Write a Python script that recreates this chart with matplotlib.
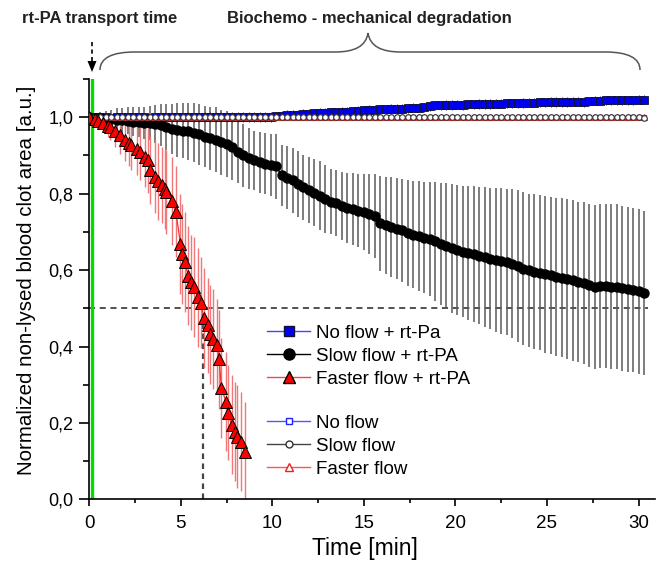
import matplotlib
matplotlib.use("Agg")
import matplotlib.pyplot as plt
from matplotlib.path import Path
from matplotlib.patches import PathPatch
from matplotlib.lines import Line2D
from matplotlib.ticker import MultipleLocator, FuncFormatter

plt.rcParams['font.family'] = ['Liberation Sans', 'DejaVu Sans']

# ---------------- data ----------------
TIME = [0.0, 0.3, 0.6, 0.9, 1.2, 1.5, 1.8, 2.1, 2.4, 2.7,
        3.0, 3.3, 3.6, 3.9, 4.2, 4.5, 4.8, 5.1, 5.4, 5.7,
        6.0, 6.3, 6.6, 6.9, 7.2, 7.5, 7.8, 8.1, 8.4, 8.7,
        9.0, 9.3, 9.6, 9.9, 10.2, 10.5, 10.8, 11.1, 11.4, 11.7,
        12.0, 12.3, 12.6, 12.9, 13.2, 13.5, 13.8, 14.1, 14.4, 14.7,
        15.0, 15.3, 15.6, 15.9, 16.2, 16.5, 16.8, 17.1, 17.4, 17.7,
        18.0, 18.3, 18.6, 18.9, 19.2, 19.5, 19.8, 20.1, 20.4, 20.7,
        21.0, 21.3, 21.6, 21.9, 22.2, 22.5, 22.8, 23.1, 23.4, 23.7,
        24.0, 24.3, 24.6, 24.9, 25.2, 25.5, 25.8, 26.1, 26.4, 26.7,
        27.0, 27.3, 27.6, 27.9, 28.2, 28.5, 28.8, 29.1, 29.4, 29.7,
        30.0, 30.3]

# Slow flow + rt-PA
SLOW_RTPA = [1.000, 0.999, 0.998, 0.996, 0.995, 0.994, 0.992, 0.991, 0.989, 0.988,
             0.986, 0.985, 0.983, 0.980, 0.975, 0.970, 0.967, 0.965, 0.963, 0.960,
             0.955, 0.949, 0.945, 0.941, 0.935, 0.930, 0.922, 0.910, 0.900, 0.893,
             0.887, 0.882, 0.878, 0.875, 0.872, 0.848, 0.842, 0.835, 0.826, 0.817,
             0.810, 0.803, 0.795, 0.786, 0.779, 0.775, 0.768, 0.762, 0.760, 0.756,
             0.752, 0.746, 0.741, 0.722, 0.717, 0.713, 0.708, 0.704, 0.697, 0.692,
             0.689, 0.685, 0.681, 0.675, 0.668, 0.662, 0.657, 0.652, 0.648, 0.645,
             0.641, 0.638, 0.634, 0.630, 0.627, 0.624, 0.621, 0.617, 0.611, 0.604,
             0.599, 0.596, 0.593, 0.589, 0.586, 0.583, 0.580, 0.577, 0.573, 0.569,
             0.565, 0.560, 0.556, 0.558, 0.559, 0.557, 0.556, 0.553, 0.550, 0.547,
             0.544, 0.540]
SLOW_RTPA_ERR = [0.005, 0.010, 0.015, 0.020, 0.025, 0.030, 0.032, 0.035, 0.038, 0.040,
                 0.042, 0.045, 0.050, 0.055, 0.060, 0.065, 0.070, 0.072, 0.075, 0.078,
                 0.080, 0.080, 0.082, 0.085, 0.085, 0.087, 0.085, 0.083, 0.082, 0.080,
                 0.078, 0.080, 0.080, 0.082, 0.085, 0.080, 0.082, 0.085, 0.086, 0.085,
                 0.087, 0.088, 0.090, 0.088, 0.085, 0.086, 0.090, 0.092, 0.094, 0.096,
                 0.100, 0.105, 0.110, 0.125, 0.128, 0.130, 0.132, 0.135, 0.138, 0.140,
                 0.143, 0.146, 0.150, 0.155, 0.160, 0.165, 0.168, 0.170, 0.172, 0.175,
                 0.178, 0.180, 0.183, 0.185, 0.188, 0.190, 0.192, 0.195, 0.198, 0.200,
                 0.200, 0.202, 0.203, 0.205, 0.206, 0.207, 0.208, 0.209, 0.210, 0.210,
                 0.212, 0.213, 0.214, 0.215, 0.215, 0.215, 0.216, 0.216, 0.216, 0.215,
                 0.215, 0.215]

# No flow + rt-PA
NO_RTPA = [1.000, 1.001, 1.000, 1.000, 0.999, 1.000, 1.001, 1.000, 1.000, 1.001,
           1.000, 0.999, 1.000, 1.000, 1.001, 1.000, 1.000, 1.000, 1.001, 1.000,
           1.000, 1.001, 1.000, 1.001, 1.000, 1.001, 1.001, 1.000, 1.001, 1.001,
           1.002, 1.001, 1.002, 1.002, 1.003, 1.004, 1.005, 1.006, 1.007, 1.008,
           1.009, 1.010, 1.011, 1.012, 1.013, 1.013, 1.014, 1.015, 1.016, 1.017,
           1.018, 1.019, 1.020, 1.021, 1.021, 1.022, 1.023, 1.023, 1.024, 1.025,
           1.025, 1.026, 1.030, 1.031, 1.031, 1.032, 1.032, 1.033, 1.033, 1.034,
           1.034, 1.035, 1.035, 1.036, 1.036, 1.036, 1.037, 1.037, 1.037, 1.038,
           1.038, 1.038, 1.039, 1.039, 1.039, 1.040, 1.040, 1.040, 1.041, 1.041,
           1.041, 1.042, 1.043, 1.043, 1.044, 1.044, 1.044, 1.045, 1.045, 1.045,
           1.046, 1.046]
NO_RTPA_ERR = [0.002, 0.004, 0.005, 0.006, 0.006, 0.007, 0.007, 0.008, 0.008, 0.008,
               0.009, 0.009, 0.010, 0.010, 0.010, 0.011, 0.011, 0.011, 0.012, 0.012,
               0.012, 0.012, 0.013, 0.013, 0.013, 0.012, 0.013, 0.013, 0.012, 0.013,
               0.013, 0.012, 0.013, 0.013, 0.012, 0.012, 0.013, 0.012, 0.012, 0.013,
               0.012, 0.012, 0.013, 0.012, 0.012, 0.012, 0.013, 0.012, 0.012, 0.012,
               0.012, 0.013, 0.012, 0.012, 0.012, 0.012, 0.013, 0.012, 0.012, 0.012,
               0.012, 0.012, 0.013, 0.012, 0.012, 0.012, 0.012, 0.012, 0.013, 0.012,
               0.012, 0.012, 0.012, 0.013, 0.012, 0.012, 0.012, 0.012, 0.012, 0.013,
               0.012, 0.012, 0.012, 0.012, 0.013, 0.012, 0.012, 0.012, 0.012, 0.012,
               0.013, 0.012, 0.012, 0.012, 0.012, 0.012, 0.013, 0.012, 0.012, 0.012,
               0.012, 0.012]

# controls without rt-PA (all stay at ~1)
NO_FLOW = [1.000, 1.000, 1.001, 1.000, 1.000, 1.000, 0.999, 1.000, 1.000, 1.000,
           1.001, 1.000, 1.000, 1.000, 1.000, 0.999, 1.000, 1.000, 1.000, 1.001,
           1.000, 1.000, 1.000, 1.000, 1.000, 1.000, 1.001, 1.000, 1.000, 1.000,
           1.000, 1.000, 1.000, 0.999, 1.000, 1.000, 1.000, 1.000, 1.001, 1.000,
           1.000, 1.000, 1.000, 1.000, 1.000, 1.000, 1.000, 1.001, 1.000, 1.000,
           1.000, 1.000, 0.999, 1.000, 1.000, 1.000, 1.000, 1.000, 1.000, 1.000,
           1.001, 1.000, 1.000, 1.000, 1.000, 1.000, 1.000, 1.000, 1.000, 1.000,
           1.000, 1.001, 1.000, 1.000, 1.000, 1.000, 1.000, 1.000, 1.000, 1.000,
           1.000, 1.000, 1.000, 1.000, 1.001, 1.000, 1.000, 1.000, 1.000, 1.000,
           1.000, 1.000, 1.000, 1.000, 1.000, 1.000, 1.000, 1.000, 1.000, 1.000,
           1.000, 1.000]
SLOW_FLOW = [1.000, 1.000, 1.000, 1.000, 1.000, 1.000, 1.000, 1.000, 1.000, 1.000,
             1.000, 1.000, 1.000, 1.000, 1.000, 1.000, 1.000, 1.000, 1.000, 1.000,
             1.000, 1.000, 1.000, 1.000, 1.000, 1.000, 1.000, 1.000, 1.000, 1.000,
             1.000, 1.000, 1.000, 1.000, 1.000, 1.000, 1.000, 1.000, 1.000, 1.000,
             1.000, 1.000, 1.000, 1.000, 1.000, 1.000, 1.000, 1.000, 1.000, 1.000,
             1.000, 1.000, 1.000, 1.000, 1.000, 1.000, 1.000, 1.000, 1.000, 1.000,
             1.000, 1.000, 1.000, 1.000, 1.000, 1.000, 1.000, 1.000, 1.000, 1.000,
             1.000, 1.000, 1.000, 1.000, 1.000, 1.000, 1.000, 1.000, 1.000, 1.000,
             1.000, 1.000, 1.000, 1.000, 1.000, 1.000, 1.000, 1.000, 1.000, 1.000,
             1.000, 1.000, 1.000, 1.000, 1.000, 1.000, 1.000, 1.000, 1.000, 1.000,
             1.000, 0.999]
FAST_FLOW = [1.000, 1.000, 1.000, 1.001, 1.000, 1.000, 1.000, 1.000, 1.000, 1.000,
             1.000, 1.001, 1.000, 1.000, 1.000, 1.000, 1.000, 1.000, 1.000, 1.000,
             1.001, 1.000, 1.000, 1.000, 1.000, 1.000, 1.000, 1.000, 1.001, 1.000,
             1.000, 1.000, 1.000, 1.000, 1.000, 1.001, 1.000, 1.000, 1.000, 1.000,
             1.000, 1.000, 1.000, 1.001, 1.000, 1.000, 1.000, 1.000, 1.000, 1.000,
             1.001, 1.000, 1.000, 1.000, 1.000, 1.000, 1.000, 1.001, 1.000, 1.000,
             1.000, 1.000, 1.000, 1.000, 1.001, 1.000, 1.000, 1.000, 1.000, 1.000,
             1.000, 1.000, 1.001, 1.000, 1.000, 1.000, 1.000, 1.000, 1.000, 1.000,
             1.001, 1.000, 1.000, 1.000, 1.000, 1.000, 1.000, 1.001, 1.000, 1.000,
             1.000, 1.000, 1.000, 1.000, 1.001, 1.000, 1.000, 1.000, 1.000, 1.000,
             1.000, 1.000]

# Faster flow + rt-PA
FAST_TIME = [0.0, 0.3, 0.5, 0.75, 1.0, 1.12, 1.39, 1.67, 1.94, 2.15,
             2.3, 2.58, 2.76, 3.03, 3.2, 3.3, 3.58, 3.74, 3.95, 4.13,
             4.2, 4.49, 4.73, 4.98, 5.09, 5.22, 5.4, 5.55, 5.71, 5.93,
             6.09, 6.26, 6.46, 6.58, 6.73, 6.98, 7.09, 7.22, 7.46, 7.6,
             7.77, 7.97, 8.08, 8.26, 8.5]
FAST_RTPA = [1.0, 0.996, 0.99, 0.984, 0.978, 0.975, 0.963, 0.953, 0.94, 0.933,
             0.927, 0.918, 0.91, 0.897, 0.888, 0.862, 0.845, 0.832, 0.822, 0.813,
             0.805, 0.782, 0.753, 0.668, 0.642, 0.621, 0.585, 0.568, 0.556, 0.529,
             0.515, 0.475, 0.455, 0.432, 0.42, 0.405, 0.366, 0.291, 0.256, 0.227,
             0.195, 0.177, 0.164, 0.151, 0.124]
FAST_RTPA_ERR = [0.005, 0.01, 0.015, 0.02, 0.03, 0.035, 0.04, 0.05, 0.055, 0.06,
                 0.065, 0.07, 0.075, 0.08, 0.085, 0.09, 0.095, 0.1, 0.1, 0.105,
                 0.11, 0.115, 0.12, 0.13, 0.13, 0.13, 0.13, 0.125, 0.13, 0.13,
                 0.12, 0.13, 0.125, 0.13, 0.13, 0.12, 0.13, 0.13, 0.13, 0.125,
                 0.13, 0.13, 0.135, 0.13, 0.13]

HALF_LEVEL = 0.5
HALF_TIME = 6.2
TRANSPORT_TIME = 0.15

LABELS_RTPA = ["No flow + rt-Pa", "Slow flow + rt-PA", "Faster flow + rt-PA"]
LABELS_CTRL = ["No flow", "Slow flow", "Faster flow"]

# ---------------- figure ----------------
W, H = 656, 561
fig = plt.figure(figsize=(W / 100, H / 100), dpi=100)
x_left, x_axis_end = 89.3, 655.0
y_bottom, y_top = 499.3, 79.1
ax = fig.add_axes([x_left / W, (H - y_bottom) / H,
                   (x_axis_end - x_left) / W, (y_bottom - y_top) / H])
ax.set_xlim(0, 30.9)
ax.set_ylim(0, 1.1)

BLUE = '#0000ee'

# error bars
ax.errorbar(TIME, SLOW_RTPA, yerr=SLOW_RTPA_ERR, fmt='none', ecolor='#5a5a5a',
            elinewidth=1.1, capsize=0, zorder=2)
ax.errorbar(FAST_TIME, FAST_RTPA, yerr=FAST_RTPA_ERR, fmt='none', ecolor='#f07878',
            elinewidth=1.0, capsize=0, zorder=2)
ax.errorbar(TIME, NO_RTPA, yerr=NO_RTPA_ERR, fmt='none', ecolor='#444444',
            elinewidth=0.8, capsize=0, zorder=2)

# reference lines
ax.axhline(HALF_LEVEL, xmin=0, xmax=30.5 / 30.9, color='#222222', lw=1.1,
           ls=(0, (4, 3)), zorder=1.5)
ax.plot([HALF_TIME, HALF_TIME], [0, HALF_LEVEL], color='#444444', lw=1.6,
        ls=(0, (2.5, 2)), zorder=1.5)
ax.axvline(TRANSPORT_TIME, color='#00dd00', lw=2.4, zorder=1.6)

# series
ax.plot(TIME, NO_RTPA, '-', color='#3333ff', lw=0.9, marker='s', ms=6,
        mfc=BLUE, mec='#111133', mew=0.6, zorder=3)
ax.plot(TIME, SLOW_RTPA, '-', color='black', lw=0.9, marker='o', ms=6.5,
        mfc='black', mec='black', zorder=4)
ax.plot(TIME, NO_FLOW, '-', color='#5555ff', lw=0.8, marker='s', ms=3.5,
        mfc='white', mec='#3333ff', mew=0.8, zorder=4.5)
ax.plot(TIME, FAST_FLOW, '-', color='#ff5555', lw=0.8, marker='^', ms=5,
        mfc='white', mec='#dd2222', mew=0.8, zorder=4.6)
ax.plot(TIME, SLOW_FLOW, '-', color='#444444', lw=0.8, marker='o', ms=4,
        mfc='white', mec='#333333', mew=0.8, zorder=4.7)
ax.plot(FAST_TIME, FAST_RTPA, '-', color='#ee3333', lw=0.9, marker='^', ms=8,
        mfc='#ff0000', mec='black', mew=0.7, zorder=5)

# axes styling
for s in ('top', 'right'):
    ax.spines[s].set_visible(False)
for s in ('left', 'bottom'):
    ax.spines[s].set_linewidth(1.2)
ax.xaxis.set_major_locator(MultipleLocator(5))
ax.xaxis.set_minor_locator(MultipleLocator(2.5))
ax.yaxis.set_major_locator(MultipleLocator(0.2))
ax.yaxis.set_minor_locator(MultipleLocator(0.1))
ax.yaxis.set_major_formatter(FuncFormatter(lambda v, p: f"{v:.1f}".replace('.', ',')))
ax.tick_params(axis='y', which='major', length=7, width=1.2, labelsize=13, pad=4.5)
ax.tick_params(axis='y', which='minor', length=4, width=1.2)
ax.tick_params(axis='x', which='major', length=5, width=1.2, labelsize=13.5, pad=6)
ax.tick_params(axis='x', which='minor', length=3, width=1.2)

# legends
fs = 13.5
h1 = [Line2D([], [], color='#4444ff', lw=1, marker='s', ms=7, mfc=BLUE, mec='#111133'),
      Line2D([], [], color='black', lw=1, marker='o', ms=8, mfc='black', mec='black'),
      Line2D([], [], color='#ff4444', lw=1, marker='^', ms=9, mfc='#ff0000', mec='black')]
h2 = [Line2D([], [], color='#5555ff', lw=1, marker='s', ms=5, mfc='white', mec='#2222ff'),
      Line2D([], [], color='#444444', lw=1, marker='o', ms=5, mfc='white', mec='#333333'),
      Line2D([], [], color='#ff5555', lw=1, marker='^', ms=6, mfc='white', mec='#ee2222')]
common = dict(frameon=False, fontsize=fs, handlelength=2.3, handletextpad=0.32,
              labelspacing=0.31, borderpad=0, borderaxespad=0, loc='upper left',
              bbox_transform=fig.transFigure)
leg1 = ax.legend(h1, LABELS_RTPA, bbox_to_anchor=(267 / W, 1 - 324.5 / H), **common)
ax.add_artist(leg1)
ax.legend(h2, LABELS_CTRL, bbox_to_anchor=(267 / W, 1 - 414.5 / H), **common)

# axis labels
fig.text(27 / W, 1 - 280 / H, "Normalized non-lysed blood clot area [a.u.]",
         rotation=90, ha='center', va='center', fontsize=14.8)
fig.text(365 / W, 1 - 549 / H, "Time [min]", ha='center', va='center', fontsize=16.5)

# top annotations (overlay in pixel coordinates)
ov = fig.add_axes([0, 0, 1, 1], zorder=10)
ov.set_xlim(0, W)
ov.set_ylim(H, 0)
ov.axis('off')
ov.patch.set_alpha(0)
tfam = ['Liberation Sans Narrow', 'Liberation Sans', 'DejaVu Sans']
ov.text(100, 18, "rt-PA transport time", ha='center', va='center',
        fontsize=12, fontweight='bold', family=tfam, color='#222222')
ov.text(369, 18, "Biochemo - mechanical degradation", ha='center', va='center',
        fontsize=12, fontweight='bold', family=tfam, color='#222222')
verts = [(100, 70), (100, 58), (112, 52), (135, 52),
         (335, 52),
         (355, 52), (366, 46), (368, 33),
         (370, 46), (381, 52), (401, 52),
         (605, 52),
         (628, 52), (640, 58), (640, 70)]
codes = [Path.MOVETO, Path.CURVE4, Path.CURVE4, Path.CURVE4,
         Path.LINETO,
         Path.CURVE4, Path.CURVE4, Path.CURVE4,
         Path.CURVE4, Path.CURVE4, Path.CURVE4,
         Path.LINETO,
         Path.CURVE4, Path.CURVE4, Path.CURVE4]
ov.add_patch(PathPatch(Path(verts, codes), fc='none', ec='#555555', lw=1.1))
ov.plot([92, 92], [42, 62], color='black', lw=1.2, ls=(0, (2.5, 2)))
ov.fill([87.5, 96.5, 92], [61, 61, 72], color='black', lw=0)

fig.savefig("out.png", dpi=100)
